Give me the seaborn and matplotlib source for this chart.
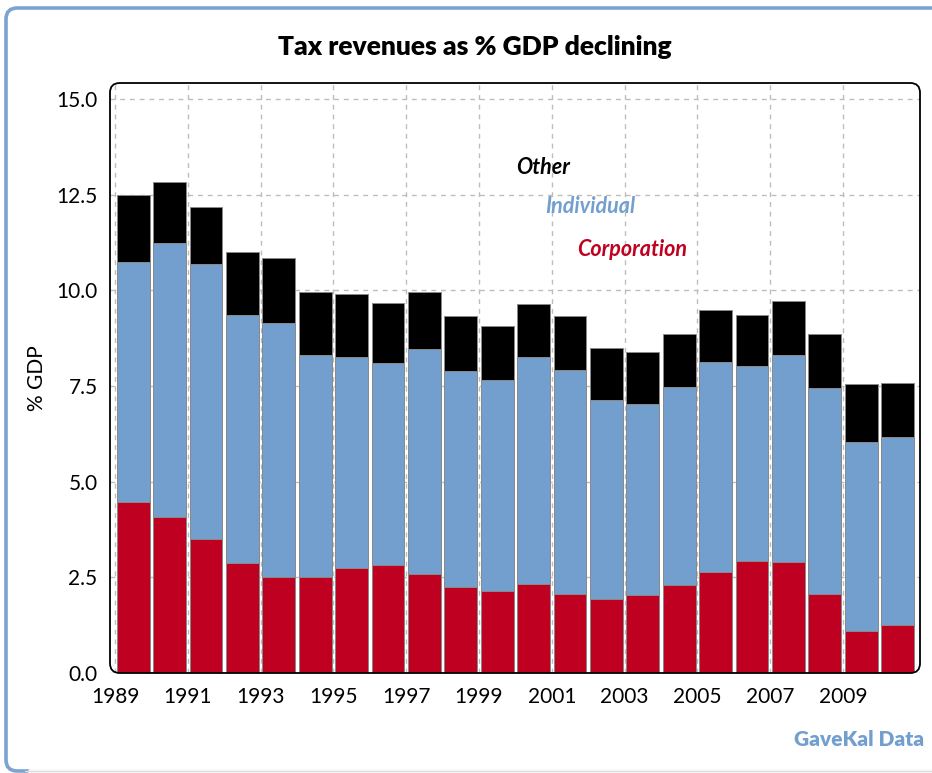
import matplotlib
matplotlib.use("Agg")
import matplotlib.pyplot as plt
from matplotlib.patches import FancyBboxPatch
from matplotlib.lines import Line2D
import numpy as np
import seaborn as sns

# Tax revenues by source, % of GDP
years = list(range(1989, 2011))
corporation = [4.48, 4.07, 3.49, 2.87, 2.52, 2.50, 2.74, 2.81, 2.59, 2.24, 2.15,
               2.33, 2.07, 1.93, 2.03, 2.29, 2.64, 2.93, 2.89, 2.06, 1.11, 1.25]
individual = [6.26, 7.16, 7.20, 6.49, 6.64, 5.80, 5.53, 5.29, 5.88, 5.64, 5.52,
              5.94, 5.86, 5.20, 5.00, 5.19, 5.50, 5.09, 5.43, 5.40, 4.94, 4.91]
other = [1.75, 1.61, 1.50, 1.65, 1.69, 1.66, 1.63, 1.58, 1.50, 1.44, 1.39,
         1.37, 1.40, 1.37, 1.37, 1.37, 1.35, 1.34, 1.40, 1.39, 1.50, 1.43]
series_names = ["Other", "Individual", "Corporation"]
x_tick_years = list(range(1989, 2010, 2))
y_ticks = [0.0, 2.5, 5.0, 7.5, 10.0, 12.5, 15.0]

BLACK = "#000000"
BLUE = "#739fcf"
RED = "#c00020"

sns.set_theme(style="white")
plt.rcParams["font.family"] = ["Lato", "DejaVu Sans"]
plt.rcParams["text.color"] = "black"
plt.rcParams["axes.labelcolor"] = "black"
plt.rcParams["xtick.color"] = "black"
plt.rcParams["ytick.color"] = "black"

fig = plt.figure(figsize=(9.32, 7.73), dpi=100)
ax = fig.add_axes([110 / 932, 1 - 673 / 773, 810 / 932, 590 / 773])

centers = np.array(years) + 0.5
corp = np.array(corporation)
indiv_top = corp + np.array(individual)
total = indiv_top + np.array(other)

# stacked bars drawn as overlapping cumulative layers
for heights, col in [(total, BLACK), (indiv_top, BLUE), (corp, RED)]:
    sns.barplot(x=centers, y=heights, native_scale=True, color=col,
                width=0.9, edgecolor="#8a8a8a", linewidth=0.7,
                saturation=1, ax=ax, zorder=2)

ax.set_xlim(1988.863, 2011.115)
ax.set_ylim(0, 15.42)
ax.set_xticks(x_tick_years)
ax.set_xticklabels([str(y) for y in x_tick_years])
ax.set_yticks(y_ticks)
ax.set_yticklabels([f"{v:.1f}" for v in y_ticks])
ax.tick_params(axis="both", direction="out", length=7, width=1.1,
               colors="black", labelsize=15, pad=2)
ax.tick_params(axis="x", pad=3)
ax.set_axisbelow(True)
ax.grid(True, color="#bdbdbd", linestyle=(0, (3.5, 3.5)), linewidth=1.0)
ax.set_xlabel("")
ax.set_ylabel("% GDP", fontsize=15, labelpad=7)
for s in ax.spines.values():
    s.set_visible(False)

# rounded plot frame
ax.add_patch(FancyBboxPatch((0, 0), 1, 1, boxstyle="round,pad=0,rounding_size=0.012",
                            transform=ax.transAxes, fill=False, ec="black",
                            lw=1.3, clip_on=False, zorder=5,
                            mutation_aspect=810 / 590))

# series labels
label_pos = [(2000.02, 13.2), (2000.82, 12.18), (2001.7, 11.08)]
for name, col, (lx, ly) in zip(series_names, [BLACK, BLUE, RED], label_pos):
    ax.text(lx, ly, name, color=col, fontsize=15.5, fontstyle="italic",
            fontweight="bold", ha="left", va="center", zorder=6)

fig.text(475 / 932, 1 - 47 / 773, "Tax revenues as % GDP declining",
         fontsize=19, fontweight="heavy", ha="center", va="center", color="black")
fig.text(924 / 932, 1 - 740 / 773, "GaveKal Data", fontsize=15,
         fontweight="heavy", color=BLUE, ha="right", va="center")

# outer rounded panel
fig.patches.append(FancyBboxPatch((6 / 932, 2 / 773), 1.2, 1 - 10 / 773,
                                  boxstyle="round,pad=0,rounding_size=0.012",
                                  transform=fig.transFigure, fill=False,
                                  ec="#7ba4d1", lw=2.6,
                                  mutation_aspect=932 / 773))
fig.lines.append(Line2D([30 / 932, 1], [2 / 773, 2 / 773], transform=fig.transFigure,
                        color="white", lw=3.5))
fig.lines.append(Line2D([25 / 932, 1], [2.5 / 773, 2.5 / 773], transform=fig.transFigure,
                        color="#d9d9d9", lw=1))

fig.savefig("out.png", dpi=100)
